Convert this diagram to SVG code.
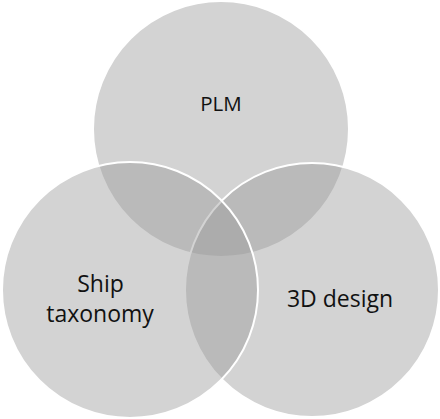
<svg xmlns="http://www.w3.org/2000/svg" width="440" height="419" viewBox="0 0 440 419">
  <style>
    .set { fill: #999999; fill-opacity: 0.43; stroke: #ffffff; stroke-width: 2; }
    .label { font-family: "Open Sans", "Liberation Sans", sans-serif; fill: #111111; text-anchor: middle; }
  </style>
  <rect width="440" height="419" fill="#ffffff"/>
  <g id="connectors"/>
  <!-- Venn sets: drawn top, right, left so the left set's stroke stays on top -->
  <g id="plm">
    <circle class="set" cx="221" cy="129" r="128"/>
    <text class="label" x="221" y="111" font-size="20.5">PLM</text>
  </g>
  <g id="design3d">
    <circle class="set" cx="312" cy="290" r="127"/>
    <text class="label" x="340" y="307" font-size="23">3D design</text>
  </g>
  <g id="ship-taxonomy">
    <circle class="set" cx="130" cy="290" r="128"/>
    <text class="label" x="100.5" y="292" font-size="23">Ship</text>
    <text class="label" x="100" y="322" font-size="23">taxonomy</text>
  </g>
</svg>
